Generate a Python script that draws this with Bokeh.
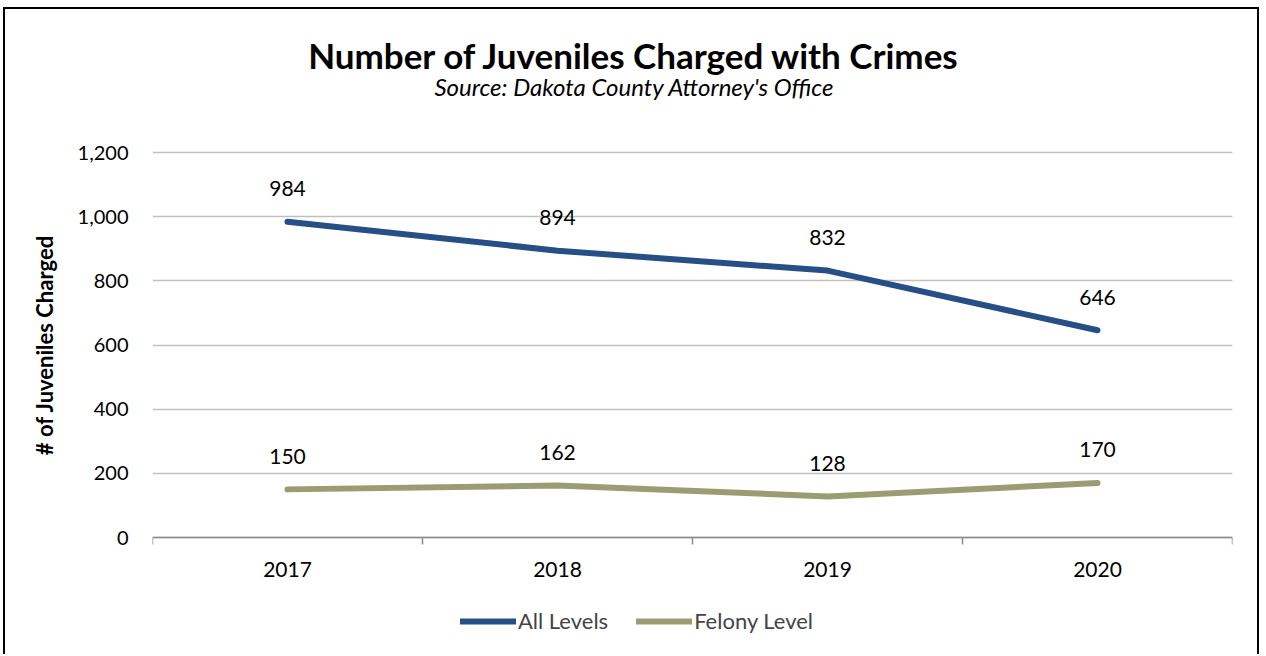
from bokeh.plotting import figure
from bokeh.models import (Range1d, LinearAxis, FixedTicker, Label,
                          ColumnDataSource, LabelSet, Legend, LegendItem,
                          NumeralTickFormatter, CustomJSTickFormatter, Grid)
from bokeh.embed import file_html
from bokeh.resources import INLINE
from bokeh.core.properties import value

# ---- data ----
years = ["2017", "2018", "2019", "2020"]
all_levels = [984, 894, 832, 646]
felony_level = [150, 162, 128, 170]
y_ticks = [0, 200, 400, 600, 800, 1000, 1200]
series_names = ["All Levels", "Felony Level"]
title_text = "Number of Juveniles Charged with Crimes"
subtitle_text = "Source: Dakota County Attorney's Office"
y_label = "# of Juveniles Charged"

FONT = "Lato"
BLUE = "#264F85"
OLIVE = "#9A9D71"
AXIS_GRAY = "#8C8C8C"
GRID_GRAY = "#C0C0C0"

# ---- layout (canvas pixels) ----
W, H = 1256, 647
LEFT, RIGHT = 147, 29
FRAME_TOP = 24             # frame spans title area too (keeps y-label centred on 0..max)
VAL_TOP_PX = 143           # canvas y of the top tick value
AXIS_Y_PX = 528            # canvas y of the value 0
Y_MAX = y_ticks[-1]
ppu = (AXIS_Y_PX - VAL_TOP_PX) / Y_MAX
y_top = Y_MAX + (VAL_TOP_PX - FRAME_TOP) / ppu
y_bottom = -(H - AXIS_Y_PX) / ppu

n = len(years)
xpos = list(range(n))                       # category index positions
bounds = [i - 0.5 for i in range(n + 1)]    # category boundaries

p = figure(width=W, height=H,
           x_range=Range1d(-0.5, n - 0.5), y_range=Range1d(y_bottom, y_top),
           x_axis_type=None, y_axis_type=None,
           output_backend="svg", toolbar_location=None,
           min_border_left=LEFT, min_border_right=RIGHT,
           min_border_top=FRAME_TOP, min_border_bottom=0)
p.outline_line_color = None
p.background_fill_color = "white"
p.border_fill_color = "white"
p.styles = {"margin-left": "3px", "margin-top": "7px",
            "border-top": "2px solid black", "border-left": "2px solid black",
            "border-right": "2px solid black"}

# grid
grid = Grid(dimension=1, ticker=FixedTicker(ticks=y_ticks),
            grid_line_color=GRID_GRAY, grid_line_width=1.5)
p.add_layout(grid, "center")

# y axis
yaxis = LinearAxis(ticker=FixedTicker(ticks=y_ticks),
                   formatter=NumeralTickFormatter(format="0,0"),
                   axis_label=y_label,
                   axis_label_text_font=FONT, axis_label_text_font_style="bold",
                   axis_label_text_font_size="22px", axis_label_standoff=17,
                   axis_label_text_color="black",
                   major_label_text_font=FONT, major_label_text_font_size="20px",
                   major_label_text_color="black",
                   major_label_standoff=24, major_tick_out=0, major_tick_in=0,
                   major_tick_line_color=None, minor_tick_line_color=None,
                   axis_line_color=None)
p.add_layout(yaxis, "left")

# boundary-tick axis (no labels), fixed at value 0
tick_axis = LinearAxis(ticker=FixedTicker(ticks=bounds), fixed_location=0,
                       formatter=CustomJSTickFormatter(code="return ''"),
                       major_label_text_font_size="1px", major_label_standoff=0,
                       major_tick_out=7, major_tick_in=0,
                       major_tick_line_color=AXIS_GRAY, major_tick_line_width=1.5,
                       minor_tick_line_color=None,
                       axis_line_color=AXIS_GRAY, axis_line_width=1.5)
p.add_layout(tick_axis, "below")

# category label axis, fixed at value 0
cat_axis = LinearAxis(ticker=FixedTicker(ticks=xpos), fixed_location=0,
                      major_label_overrides={i: y for i, y in enumerate(years)},
                      major_label_text_font=FONT, major_label_text_font_size="21px",
                      major_label_text_color="black", major_label_standoff=24,
                      major_tick_line_color=None, major_tick_out=0, major_tick_in=0,
                      minor_tick_line_color=None, axis_line_color=None)
p.add_layout(cat_axis, "below")

# lines
src_all = ColumnDataSource(dict(x=xpos, y=all_levels, text=[f"{v:,}" for v in all_levels]))
src_fel = ColumnDataSource(dict(x=xpos, y=felony_level, text=[f"{v:,}" for v in felony_level]))
r1 = p.line("x", "y", source=src_all, line_color=BLUE, line_width=6,
            line_cap="round", line_join="round")
r2 = p.line("x", "y", source=src_fel, line_color=OLIVE, line_width=6,
            line_cap="round", line_join="round")

for src in (src_all, src_fel):
    p.add_layout(LabelSet(x="x", y="y", text="text", source=src, y_offset=33,
                          text_align="center", text_baseline="middle",
                          text_font=value(FONT), text_font_size="21px",
                          text_color="black"))

# legend (bottom of the frame area; screen px from frame bottom-left)
legend = Legend(items=[LegendItem(label=series_names[0], renderers=[r1]),
                       LegendItem(label=series_names[1], renderers=[r2])],
                orientation="horizontal", location=(308, 22),
                glyph_width=56, glyph_height=22, label_standoff=2, spacing=28,
                label_text_font=FONT, label_text_font_size="22px",
                border_line_color=None, background_fill_alpha=0,
                padding=0, margin=0)
p.add_layout(legend, "center")

# titles (screen px from frame bottom-left)
TITLE_X = 482
p.add_layout(Label(x=TITLE_X, y=H - 45, x_units="screen", y_units="screen",
                   text=title_text, text_align="center", text_baseline="middle",
                   text_font=FONT, text_font_style="bold", text_font_size="35px",
                   text_color="black"))
p.add_layout(Label(x=TITLE_X, y=H - 77, x_units="screen", y_units="screen",
                   text=subtitle_text, text_align="center", text_baseline="middle",
                   text_font=FONT, text_font_style="italic", text_font_size="24px",
                   text_color="black"))

open("out.html", "w").write(file_html(p, INLINE))
